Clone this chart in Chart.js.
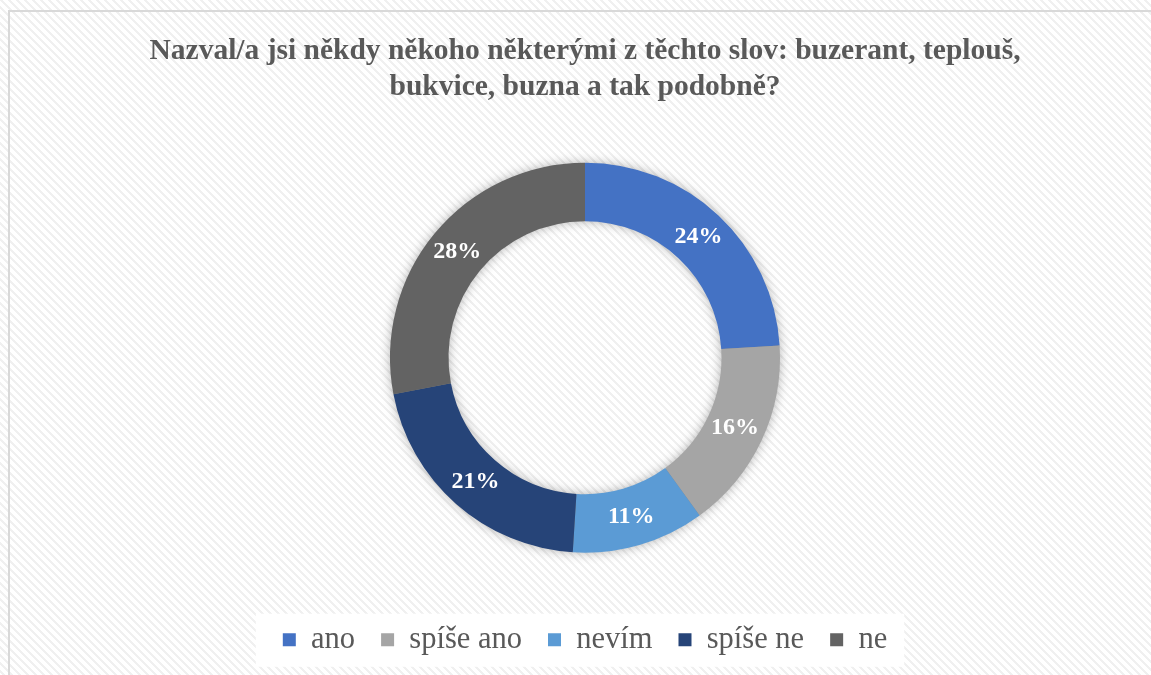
<!DOCTYPE html>
<html>
<head>
<meta charset="utf-8">
<script src="https://cdn.jsdelivr.net/npm/chart.js@4"></script>
<style>
  html, body { margin: 0; padding: 0; background: #ffffff; }
  #wrap { width: 1151px; height: 675px; }
</style>
</head>
<body>
<div id="wrap"><canvas id="myChart" width="1151" height="675"></canvas></div>
<script>
// Data
const titleLines = ["Nazval/a jsi někdy někoho některými z těchto slov: buzerant, teplouš,", "bukvice, buzna a tak podobně?"];
const categories = ["ano", "spíše ano", "nevím", "spíše ne", "ne"];
const values = [24, 16, 11, 21, 28];
const colors = ["#4472C4", "#A5A5A5", "#5B9BD5", "#264478", "#636363"];

// Striped background pattern
function makeStripes() {
    const c = document.createElement('canvas');
    c.width = 8; c.height = 8;
    const g = c.getContext('2d');
    g.fillStyle = '#ffffff';
    g.fillRect(0, 0, 8, 8);
    g.fillStyle = '#f0f0f0';
    for (let y = 0; y < 8; y++) {
        for (let x = 0; x < 8; x++) {
            if (((x - y) % 8 + 8) % 8 < 3) g.fillRect(x, y, 1, 1);
        }
    }
    return c;
}

const backgroundPlugin = {
    id: 'background',
    beforeDraw(chart) {
        const ctx = chart.ctx;
        ctx.save();
        ctx.fillStyle = ctx.createPattern(makeStripes(), 'repeat');
        ctx.fillRect(0, 0, chart.width, chart.height);
        ctx.strokeStyle = '#d9d9d9';
        ctx.lineWidth = 2;
        ctx.strokeRect(9, 11, chart.width + 20, chart.height + 20);

        // white box behind the legend
        const leg = chart.legend;
        if (leg && leg.legendHitBoxes && leg.legendHitBoxes.length) {
            const boxes = leg.legendHitBoxes;
            const first = boxes[0];
            const last = boxes[boxes.length - 1];
            const cy = first.top + first.height / 2;
            ctx.fillStyle = '#ffffff';
            ctx.fillRect(first.left - 27, cy - 26, last.left + last.width + 44 - first.left, 53);
        }
        ctx.restore();
    },
    beforeDatasetsDraw(chart) {
        // soft shadow around the ring
        const arc = chart.getDatasetMeta(0).data[0];
        if (!arc) return;
        const ctx = chart.ctx;
        ctx.save();
        ctx.shadowColor = 'rgba(0,0,0,0.35)';
        ctx.shadowBlur = 12;
        ctx.fillStyle = '#888888';
        ctx.beginPath();
        ctx.arc(arc.x, arc.y, arc.outerRadius - 1, 0, Math.PI * 2);
        ctx.arc(arc.x, arc.y, arc.innerRadius + 1, 0, Math.PI * 2, true);
        ctx.fill('evenodd');
        ctx.restore();
    },
    afterDatasetsDraw(chart) {
        // percentage labels
        const ctx = chart.ctx;
        const meta = chart.getDatasetMeta(0);
        ctx.save();
        ctx.font = 'bold 24px "Liberation Serif"';
        ctx.fillStyle = '#ffffff';
        ctx.textAlign = 'center';
        ctx.textBaseline = 'middle';
        meta.data.forEach((el, i) => {
            const p = el.tooltipPosition();
            ctx.fillText(values[i] + '%', p.x, p.y);
        });
        ctx.restore();
    }
};

const config = {
    type: 'doughnut',
    data: {
        labels: categories,
        datasets: [{
            data: values,
            backgroundColor: colors,
            borderWidth: 0,
            radius: 195,
            cutout: '70%'
        }]
    },
    options: {
        responsive: false,
        animation: false,
        layout: {
            padding: { left: 20, right: 1, top: 0, bottom: 10 }
        },
        plugins: {
            title: {
                display: true,
                text: titleLines,
                color: '#595959',
                font: { family: '"Liberation Serif"', size: 29.5, weight: 'bold', lineHeight: 1.2 },
                padding: { top: 34, bottom: 12 }
            },
            legend: {
                position: 'bottom',
                labels: {
                    color: '#595959',
                    font: { family: '"Liberation Serif"', size: 30.5 },
                    boxWidth: 13,
                    boxHeight: 13,
                    padding: 26
                }
            },
            tooltip: { enabled: false }
        }
    },
    plugins: [backgroundPlugin]
};

const ctx = document.getElementById('myChart').getContext('2d');
const myChart = new Chart(ctx, config);
</script>
</body>
</html>
